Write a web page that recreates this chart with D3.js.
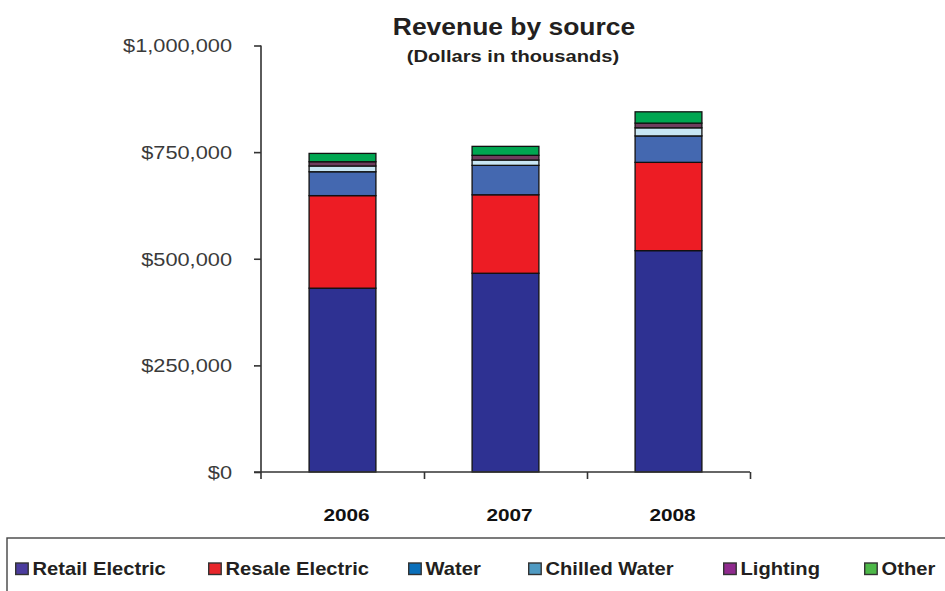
<!DOCTYPE html>
<html>
<head>
<meta charset="utf-8">
<script src="https://cdn.jsdelivr.net/npm/d3@7/dist/d3.min.js"></script>
<style>
  html, body { margin: 0; padding: 0; background: #fff; }
  svg { display: block; }
  text { font-family: "Liberation Sans", Arial, Helvetica, sans-serif; }
</style>
</head>
<body>
<svg id="chart" width="945" height="591"></svg>
<script>
// ---- data (dollars in thousands) ----
const years = ["2006", "2007", "2008"];
const seriesNames = ["Retail Electric", "Resale Electric", "Water", "Chilled Water", "Lighting", "Other"];
const retailElectric = [431000, 466000, 519000];
const resaleElectric = [217000, 184000, 207000];
const water = [56000, 69000, 62000];
const chilledWater = [13500, 12500, 19000];
const lighting = [10000, 11000, 11000];
const other = [19500, 21000, 26500];
const yTickValues = [0, 250000, 500000, 750000, 1000000];
const titleText = "Revenue by source";
const subtitleText = "(Dollars in thousands)";

// ---- styles / layout ----
const barColors = ["#2e3192", "#ed1c24", "#4468b0", "#c8e6f4", "#6e3d5e", "#00a651"];
const legendColors = ["#4b3c9e", "#e8262b", "#0a6fba", "#4f9ac2", "#8f2a8e", "#4db848"];
const legendX = [15, 208, 408, 528, 723, 864];

const svg = d3.select("#chart");
svg.append("rect").attr("width", 945).attr("height", 591).attr("fill", "#fff");

const table = years.map((y, i) => ({
  year: y,
  "Retail Electric": retailElectric[i],
  "Resale Electric": resaleElectric[i],
  "Water": water[i],
  "Chilled Water": chilledWater[i],
  "Lighting": lighting[i],
  "Other": other[i]
}));

const x0 = 261, x1 = 750, yBottom = 472, yTop = 45.5;
const x = d3.scaleBand().domain(years).range([x0, x1]).paddingInner(0.59).paddingOuter(0.295);
const xEdges = d3.scaleLinear().domain([0, years.length]).range([x0, x1]);
const y = d3.scaleLinear().domain([0, 1000000]).range([yBottom, yTop]);

const stack = d3.stack().keys(seriesNames)(table);

// bars
const barG = svg.append("g");
stack.forEach((layer, li) => {
  barG.selectAll(null).data(layer).enter().append("rect")
    .attr("x", d => x(d.data.year))
    .attr("width", x.bandwidth())
    .attr("y", d => y(d[1]))
    .attr("height", d => y(d[0]) - y(d[1]))
    .attr("fill", barColors[li])
    .attr("stroke", "#111")
    .attr("stroke-width", 1.3);
});

// y axis
const yAxis = svg.append("g").attr("transform", `translate(${x0},0)`)
  .call(d3.axisLeft(y).tickValues(yTickValues).tickSize(7).tickFormat(d => "$" + d3.format(",")(d)));
yAxis.select(".domain").attr("stroke", "#333").attr("stroke-width", 1.6)
  .attr("d", `M0,${yTop}V${yBottom + 7}`);
yAxis.selectAll(".tick line").attr("stroke", "#333").attr("stroke-width", 1.6);
yAxis.selectAll(".tick text")
  .attr("x", 0).attr("dy", "0.35em")
  .attr("transform", "translate(-29,0) scale(1.21,1)")
  .attr("fill", "#3a3a3a").attr("font-size", 18).attr("text-anchor", "end")
  .attr("font-family", "'Liberation Sans', Arial, sans-serif");

// x axis line and edge ticks
const xAxis = svg.append("g").attr("transform", `translate(0,${yBottom})`)
  .call(d3.axisBottom(xEdges).tickValues(d3.range(1, years.length + 1)).tickSize(7).tickFormat(""));
xAxis.select(".domain").attr("stroke", "#333").attr("stroke-width", 1.6)
  .attr("d", `M${x0 - 7},0H${x1}`);
xAxis.selectAll(".tick line").attr("stroke", "#333").attr("stroke-width", 1.6);

// year labels
const yearAxis = svg.append("g").attr("transform", `translate(0,${yBottom})`)
  .call(d3.axisBottom(x).tickSize(0).tickPadding(0));
yearAxis.select(".domain").remove();
yearAxis.selectAll(".tick text")
  .attr("y", 0).attr("dy", 0)
  .attr("transform", "translate(4,49) scale(1.3,1)")
  .attr("font-size", 16).attr("font-weight", "bold").attr("fill", "#111");

// title
svg.append("text").text(titleText)
  .attr("text-anchor", "middle")
  .attr("transform", "translate(514,35) scale(1.15,1)")
  .attr("font-size", 23).attr("font-weight", "bold").attr("fill", "#231f20");
svg.append("text").text(subtitleText)
  .attr("text-anchor", "middle")
  .attr("transform", "translate(513,62) scale(1.22,1)")
  .attr("font-size", 16.5).attr("font-weight", "bold").attr("fill", "#231f20");

// legend
svg.append("rect").attr("x", 7).attr("y", 538).attr("width", 960).attr("height", 80)
  .attr("fill", "#fff").attr("stroke", "#444").attr("stroke-width", 1.4);

const legendSx = 1.12;
seriesNames.forEach((name, i) => {
  const lx = legendX[i];
  const g = svg.append("g");
  g.append("rect").attr("x", lx + 0.7).attr("y", 563).attr("width", 12.5).attr("height", 11.5)
    .attr("fill", legendColors[i]).attr("stroke", "#333").attr("stroke-width", 1.4);
  g.append("text").text(name)
    .attr("transform", `translate(${lx + 17.5},574.5) scale(${legendSx},1)`)
    .attr("font-size", 18).attr("font-weight", "bold").attr("fill", "#231f20");
});
</script>
</body>
</html>
